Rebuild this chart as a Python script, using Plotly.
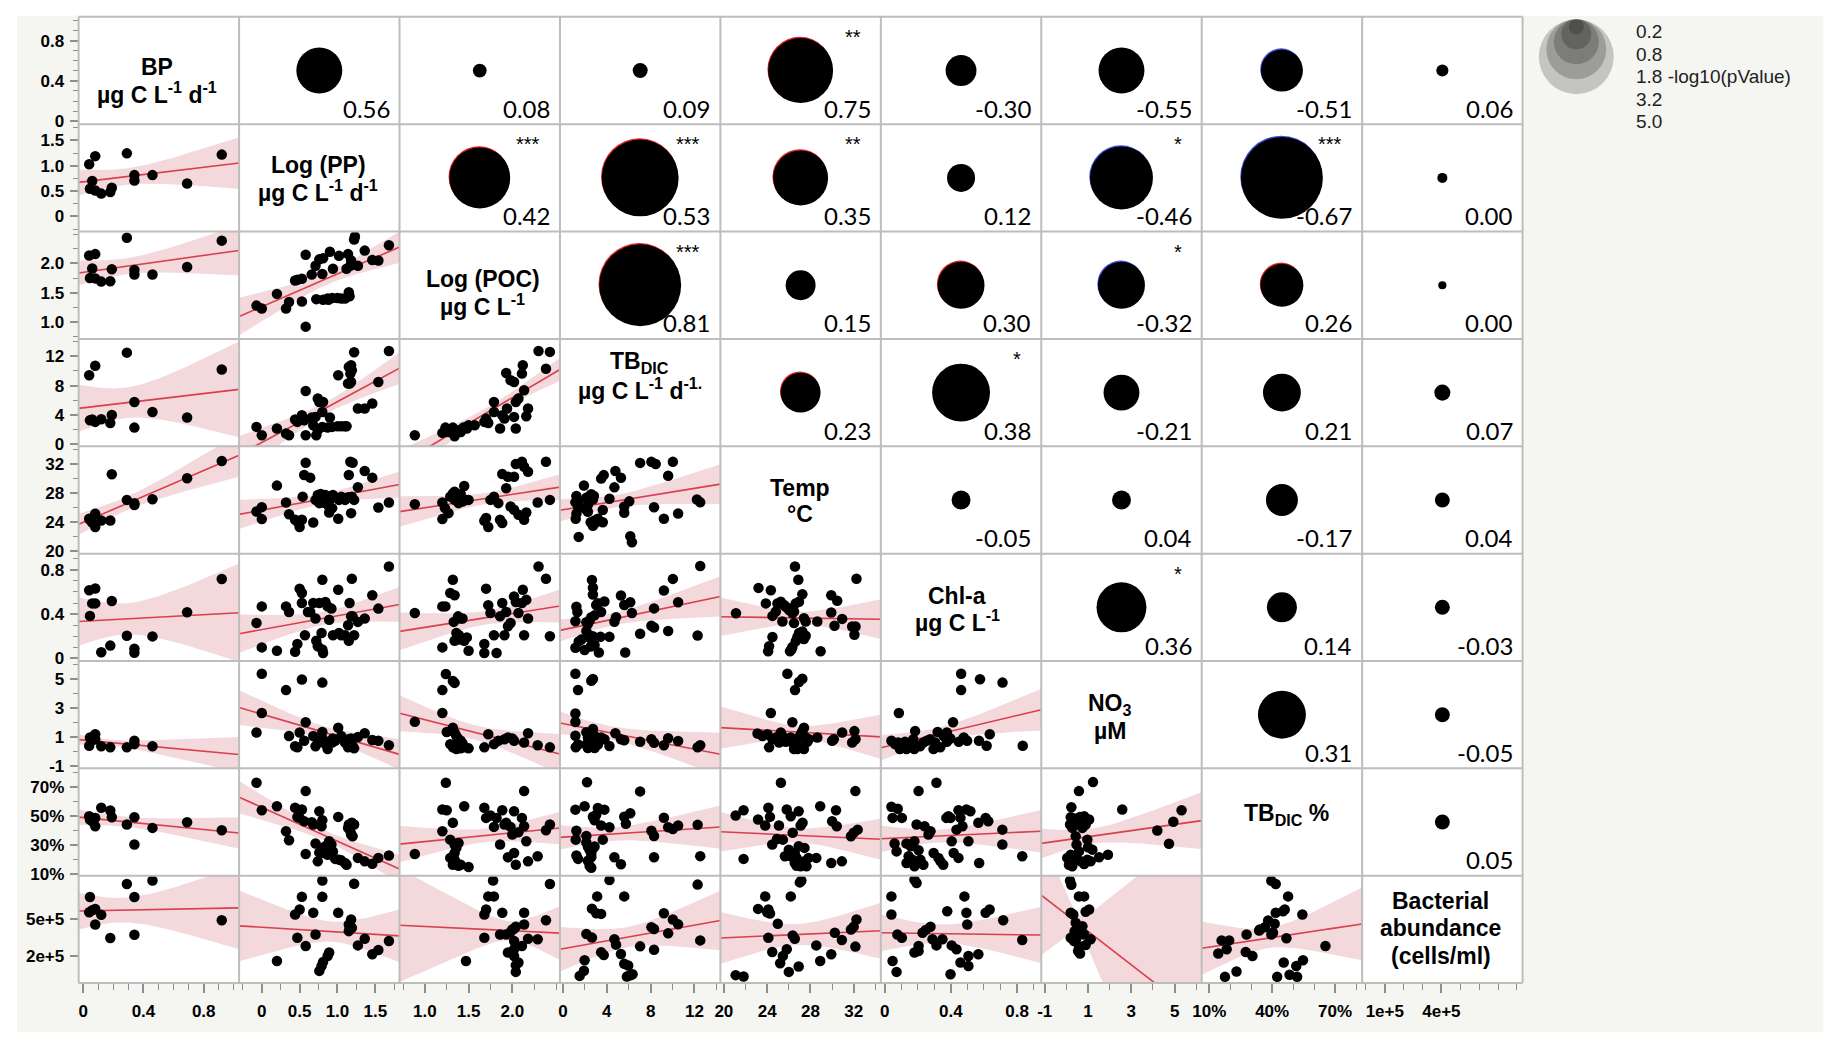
import numpy as np
import plotly.graph_objects as go

# ---------------------------------------------------------------- data
VARS = ["BP", "PP", "POC", "TBDIC", "Temp", "Chl", "NO3", "TBpct", "BA"]

LABEL_LINES = [
    ["BP", "µg C L<sup>-1</sup> d<sup>-1</sup>"],
    ["Log (PP)", "µg C L<sup>-1</sup> d<sup>-1</sup>"],
    ["Log (POC)", "µg C L<sup>-1</sup>"],
    ["TB<sub>DIC</sub>", "µg C L<sup>-1</sup> d<sup>-1.</sup>"],
    ["Temp", "°C"],
    ["Chl-a", "µg C L<sup>-1</sup>"],
    ["NO<sub>3</sub>", "µM"],
    ["TB<sub>DIC</sub> %"],
    ["Bacterial", "abundance", "(cells/ml)"],
]

# tick values / labels (x = bottom row, y = left column)
TICKS_X = {
    "BP": ([0, 0.4, 0.8], ["0", "0.4", "0.8"]),
    "PP": ([0, 0.5, 1.0, 1.5], ["0", "0.5", "1.0", "1.5"]),
    "POC": ([1.0, 1.5, 2.0], ["1.0", "1.5", "2.0"]),
    "TBDIC": ([0, 4, 8, 12], ["0", "4", "8", "12"]),
    "Temp": ([20, 24, 28, 32], ["20", "24", "28", "32"]),
    "Chl": ([0, 0.4, 0.8], ["0", "0.4", "0.8"]),
    "NO3": ([-1, 1, 3, 5], ["-1", "1", "3", "5"]),
    "TBpct": ([10, 40, 70], ["10%", "40%", "70%"]),
    "BA": ([1e5, 4e5], ["1e+5", "4e+5"]),
}
TICKS_Y = dict(TICKS_X)
TICKS_Y["TBpct"] = ([10, 30, 50, 70], ["10%", "30%", "50%", "70%"])
TICKS_Y["BA"] = ([2e5, 5e5], ["2e+5", "5e+5"])

# lower triangle scatter panels: (x, y) pairs
bp_pp = [(0.04,1.03),(0.08,1.19),(0.06,0.70),(0.045,0.545),(0.08,0.51),(0.12,0.45),(0.18,0.48),(0.19,0.565),(0.29,1.245),(0.34,0.815),(0.34,0.71),(0.46,0.815),(0.69,0.65),(0.92,1.22)]
bp_poc = [(0.04,2.135),(0.08,2.16),(0.06,1.915),(0.045,1.75),(0.08,1.745),(0.12,1.69),(0.18,1.695),(0.19,1.90),(0.29,2.44),(0.34,1.89),(0.34,1.81),(0.46,1.81),(0.69,1.94),(0.92,2.39)]
bp_tb = [(0.04,9.41),(0.08,10.7),(0.06,3.37),(0.045,3.27),(0.08,3.05),(0.12,3.41),(0.18,2.9),(0.19,4.0),(0.29,12.5),(0.34,5.77),(0.34,2.27),(0.46,4.41),(0.69,3.64),(0.92,10.2)]
bp_temp = [(0.04,24.49),(0.08,25.18),(0.06,23.98),(0.045,24.35),(0.08,23.35),(0.12,24.26),(0.18,24.26),(0.19,30.63),(0.29,27.1),(0.34,26.4),(0.34,26.65),(0.46,27.2),(0.69,30.08),(0.92,32.46)]
bp_chl = [(0.04,0.616),(0.08,0.631),(0.06,0.497),(0.045,0.384),(0.08,0.497),(0.12,0.056),(0.18,0.116),(0.19,0.518),(0.29,0.205),(0.34,0.087),(0.34,0.051),(0.46,0.199),(0.69,0.417),(0.92,0.717)]
bp_no3 = [(0.04,0.40),(0.08,1.19),(0.06,0.80),(0.045,0.97),(0.08,0.85),(0.12,0.36),(0.18,0.29),(0.29,0.29),(0.34,0.74),(0.34,0.51),(0.46,0.36)]
bp_pct = [(0.04,49.7),(0.08,48.5),(0.06,46.2),(0.045,47.4),(0.08,42.7),(0.12,55.5),(0.18,53.6),(0.19,49.0),(0.29,43.9),(0.34,49.0),(0.34,30.1),(0.46,41.6),(0.69,45.5),(0.92,40.0)]
bp_ba = [(0.045,685e3),(0.04,560e3),(0.06,576e3),(0.08,587e3),(0.08,459e3),(0.12,538e3),(0.18,347e3),(0.29,792e3),(0.34,685e3),(0.34,375e3),(0.46,821e3),(0.92,494e3)]

pp_poc = [(-0.07,1.28),(0.0,1.23),(0.2,1.48),(0.32,1.23),(0.36,1.34),(0.44,1.71),(0.47,1.72),(0.53,1.74),(0.53,1.35),(0.58,2.15),(0.58,0.92),(0.66,1.81),(0.71,1.96),(0.72,1.39),(0.76,2.07),(0.8,1.82),(0.81,2.09),(0.81,1.38),(0.87,1.4),(0.9,2.2),(0.93,1.41),(0.94,1.91),(1.0,1.41),(1.02,2.13),(1.05,1.4),(1.1,1.4),(1.12,1.91),(1.14,2.16),(1.15,1.51),(1.16,1.44),(1.17,1.96),(1.18,2.05),(1.22,2.41),(1.23,2.46),(1.27,1.96),(1.36,2.22),(1.46,2.06),(1.54,2.05),(1.68,2.31),(0.88,1.38)]
pp_tb = [(-0.07,2.37),(0.0,1.23),(0.2,2.14),(0.32,1.46),(0.36,1.23),(0.44,3.37),(0.47,3.05),(0.53,3.96),(0.56,3.27),(0.58,7.27),(0.58,1.23),(0.66,3.64),(0.71,3.73),(0.74,6.23),(0.76,5.77),(0.8,4.41),(0.81,5.77),(0.72,1.23),(0.74,1.91),(0.68,2.59),(0.8,2.37),(0.87,2.27),(0.9,3.64),(0.93,2.37),(1.0,2.46),(1.01,9.41),(1.05,2.46),(1.1,2.46),(1.12,2.46),(1.14,8.28),(1.15,10.55),(1.16,8.28),(1.17,9.64),(1.18,10.78),(1.19,10.1),(1.18,8.5),(1.22,12.55),(1.27,4.87),(1.36,4.87),(1.46,5.55),(1.54,8.5),(1.68,12.73)]
pp_temp = [(-0.07,25.49),(0.0,26.1),(0.0,24.45),(0.2,29.07),(0.32,26.73),(0.36,25.13),(0.44,24.35),(0.47,24.12),(0.5,23.35),(0.53,24.35),(0.54,27.55),(0.56,30.54),(0.58,32.23),(0.64,30.17),(0.68,23.98),(0.71,27.1),(0.74,27.79),(0.76,26.65),(0.78,27.93),(0.8,27.55),(0.81,26.73),(0.84,27.79),(0.87,26.41),(0.89,25.36),(0.9,27.1),(0.93,25.96),(0.94,27.79),(1.01,24.49),(1.02,27.1),(1.05,27.55),(1.1,27.1),(1.14,27.47),(1.15,30.54),(1.17,32.36),(1.18,25.27),(1.19,27.55),(1.2,32.23),(1.22,27.1),(1.27,28.85),(1.36,31.08),(1.46,30.17),(1.54,26.04),(1.68,26.73)]
pp_chl = [(-0.07,0.32),(0.0,0.47),(0.0,0.1),(0.2,0.07),(0.32,0.47),(0.36,0.42),(0.44,0.06),(0.47,0.13),(0.5,0.63),(0.53,0.59),(0.53,0.5),(0.57,0.21),(0.61,0.42),(0.64,0.42),(0.68,0.5),(0.71,0.36),(0.72,0.16),(0.74,0.11),(0.76,0.5),(0.79,0.23),(0.8,0.71),(0.81,0.05),(0.84,0.51),(0.87,0.47),(0.89,0.35),(0.92,0.45),(0.94,0.21),(1.01,0.62),(1.02,0.23),(1.05,0.21),(1.1,0.21),(1.14,0.3),(1.15,0.16),(1.16,0.5),(1.18,0.38),(1.19,0.72),(1.2,0.38),(1.22,0.21),(1.27,0.33),(1.36,0.36),(1.46,0.57),(1.54,0.45),(1.68,0.83),(0.8,0.08)]
pp_no3 = [(-0.07,1.31),(0.0,2.66),(0.36,1.07),(0.44,0.36),(0.47,0.29),(0.5,1.31),(0.56,0.74),(0.58,2.02),(0.68,1.07),(0.71,0.36),(0.74,0.63),(0.76,0.74),(0.8,1.35),(0.81,0.85),(0.84,0.51),(0.87,0.17),(0.93,0.63),(0.94,0.9),(0.97,0.74),(1.01,1.64),(1.05,1.07),(1.1,0.63),(1.14,0.29),(1.15,0.85),(1.18,0.9),(1.2,0.4),(1.22,0.22),(1.27,1.01),(1.36,1.26),(1.46,0.8),(1.54,0.74),(1.68,0.44),(0.0,5.37),(0.32,4.24),(0.53,4.97),(0.8,4.76)]
pp_pct = [(-0.07,72.8),(0.0,53.8),(0.2,56.6),(0.32,39.3),(0.36,33.1),(0.44,55.5),(0.47,49.2),(0.5,48.5),(0.53,54.3),(0.56,46.2),(0.58,67.0),(0.58,23.6),(0.66,45.5),(0.68,43.9),(0.71,30.8),(0.74,18.5),(0.76,53.1),(0.79,42.7),(0.8,46.9),(0.81,24.3),(0.81,27.1),(0.84,28.9),(0.87,23.1),(0.89,32.4),(0.92,30.1),(0.94,25.4),(0.97,20.2),(1.01,49.2),(1.02,19.7),(1.05,19.2),(1.1,17.4),(1.12,16.2),(1.14,41.6),(1.15,43.9),(1.17,39.3),(1.18,37.0),(1.19,45.1),(1.2,35.8),(1.22,43.9),(1.27,20.9),(1.36,18.5),(1.46,16.9),(1.54,20.9),(1.68,22.5),(0.76,24.7),(0.8,27.8)]
pp_ba = [(0.2,159e3),(0.44,541e3),(0.47,350e3),(0.5,582e3),(0.53,686e3),(0.58,282e3),(0.68,555e3),(0.71,377e3),(0.76,77e3),(0.79,118e3),(0.8,686e3),(0.8,821e3),(0.81,151e3),(0.87,200e3),(0.89,228e3),(1.01,555e3),(1.15,459e3),(1.15,404e3),(1.16,418e3),(1.18,500e3),(1.19,432e3),(1.22,794e3),(1.27,287e3),(1.36,342e3),(1.46,214e3),(1.54,249e3),(1.68,323e3)]

poc_tb = [(0.885,1.23),(1.2,1.55),(1.235,2.27),(1.27,1.68),(1.29,1.82),(1.32,2.27),(1.34,1.36),(1.34,1.91),(1.34,1.09),(1.36,1.68),(1.385,1.91),(1.41,1.68),(1.44,2.27),(1.48,2.14),(1.5,2.59),(1.57,2.59),(1.68,3.05),(1.7,3.5),(1.725,2.91),(1.79,5.77),(1.79,4.41),(1.86,2.14),(1.885,3.96),(1.91,3.5),(1.93,9.73),(1.94,4.87),(1.98,8.73),(2.02,8.5),(2.02,3.73),(2.04,2.14),(2.04,5.77),(2.07,6.23),(2.11,9.64),(2.12,10.78),(2.135,7.37),(2.16,3.82),(2.18,4.87),(2.3,12.73),(2.385,10.3),(2.43,12.6)]
poc_temp = [(0.885,26.51),(1.2,26.73),(1.2,24.45),(1.23,25.96),(1.27,25.27),(1.29,27.55),(1.32,28.0),(1.34,28.24),(1.34,27.1),(1.36,27.65),(1.385,27.33),(1.385,26.65),(1.41,27.93),(1.43,26.87),(1.45,29.02),(1.48,27.1),(1.5,27.1),(1.68,24.22),(1.7,24.59),(1.725,23.35),(1.75,27.1),(1.79,27.55),(1.84,26.65),(1.86,24.35),(1.885,23.9),(1.885,30.67),(1.93,28.71),(1.95,30.3),(1.98,26.18),(2.02,30.3),(2.02,25.73),(2.04,32.05),(2.07,25.04),(2.11,32.36),(2.135,31.68),(2.16,25.36),(2.18,30.99),(2.135,24.35),(2.29,26.73),(2.385,32.36),(2.43,27.1)]
poc_chl = [(0.885,0.41),(1.2,0.47),(1.2,0.1),(1.235,0.47),(1.29,0.59),(1.32,0.71),(1.33,0.33),(1.34,0.57),(1.36,0.23),(1.38,0.38),(1.39,0.21),(1.41,0.36),(1.43,0.36),(1.45,0.16),(1.48,0.19),(1.5,0.07),(1.34,0.16),(1.385,0.17),(1.68,0.13),(1.68,0.05),(1.7,0.63),(1.725,0.48),(1.75,0.41),(1.79,0.21),(1.82,0.05),(1.86,0.38),(1.885,0.5),(1.91,0.21),(1.93,0.42),(1.95,0.29),(1.98,0.32),(2.02,0.56),(2.04,0.51),(2.07,0.41),(2.11,0.5),(2.12,0.62),(2.135,0.21),(2.16,0.53),(2.18,0.36),(2.3,0.83),(2.385,0.72),(2.43,0.2)]
poc_no3 = [(1.24,5.35),(1.32,4.87),(1.34,4.74),(1.2,4.24),(0.885,2.05),(1.2,2.66),(1.25,1.35),(1.32,1.64),(1.34,1.31),(1.36,1.07),(1.385,0.85),(1.41,0.74),(1.43,0.58),(1.32,0.29),(1.36,0.17),(1.41,0.22),(1.45,0.29),(1.5,0.22),(1.29,0.51),(1.34,0.36),(1.68,0.29),(1.725,1.19),(1.79,0.51),(1.84,0.74),(1.91,0.85),(1.95,0.97),(2.0,0.9),(2.02,0.74),(2.135,0.63),(2.18,1.26),(2.29,0.44),(2.43,0.29)]
poc_pct = [(0.885,23.6),(1.2,39.3),(1.24,72.8),(1.2,54.3),(1.25,53.8),(1.32,45.1),(1.29,33.5),(1.34,30.1),(1.36,27.8),(1.385,31.2),(1.32,22.0),(1.34,19.7),(1.36,17.4),(1.385,15.5),(1.41,16.2),(1.45,56.6),(1.5,14.6),(1.32,16.2),(1.34,24.3),(1.29,20.9),(1.68,55.5),(1.7,48.5),(1.75,50.1),(1.79,42.3),(1.82,48.5),(1.86,30.1),(1.885,53.8),(1.91,43.9),(1.93,45.1),(1.95,21.3),(1.98,42.3),(2.0,37.0),(2.02,53.1),(2.02,24.3),(2.04,16.2),(2.07,38.6),(2.11,48.5),(2.135,67.0),(2.135,42.7),(2.16,32.4),(2.18,18.5),(2.29,22.0),(2.385,40.0),(2.43,43.9)]
poc_ba = [(1.47,159e3),(1.68,350e3),(1.68,541e3),(1.7,582e3),(1.725,690e3),(1.78,821e3),(1.79,690e3),(1.86,377e3),(1.885,555e3),(1.93,377e3),(1.95,228e3),(1.98,396e3),(2.0,418e3),(2.02,424e3),(2.02,323e3),(2.04,440e3),(2.02,255e3),(2.02,200e3),(2.04,124e3),(2.04,69e3),(2.07,146e3),(2.11,282e3),(2.135,459e3),(2.135,555e3),(2.18,342e3),(2.29,337e3),(2.385,494e3),(2.43,792e3)]

tb_temp = [(1.13,26.76),(1.22,27.64),(1.37,26.18),(1.22,25.22),(1.16,24.5),(1.43,21.99),(1.91,29.08),(2.13,27.39),(2.27,26.43),(2.27,25.47),(2.43,27.64),(2.58,27.87),(2.73,27.16),(2.82,27.64),(2.88,24.26),(2.73,23.53),(3.03,24.01),(3.18,24.5),(3.48,30.04),(3.72,30.52),(3.63,25.7),(3.63,24.01),(4.24,27.25),(4.69,28.83),(4.78,31.1),(5.29,30.14),(5.59,26.18),(5.59,25.32),(6.05,26.9),(6.14,22.09),(6.29,21.26),(7.04,32.21),(8.07,32.35),(8.46,32.06),(8.31,26.08),(9.21,24.5),(9.6,30.43),(10.03,32.35),(10.51,25.22),(12.23,27.16),(12.53,26.76),(1.97,25.95),(2.52,24.01),(1.37,26.9)]
tb_chl = [(1.22,0.467),(1.31,0.42),(1.13,0.336),(1.43,0.154),(1.13,0.097),(1.97,0.076),(2.27,0.311),(2.43,0.342),(2.58,0.373),(2.64,0.709),(2.73,0.639),(2.73,0.577),(2.88,0.389),(3.03,0.483),(3.18,0.498),(3.48,0.42),(3.78,0.514),(2.13,0.248),(2.27,0.217),(2.43,0.186),(2.52,0.107),(2.73,0.201),(2.88,0.122),(3.27,0.054),(3.42,0.195),(4.24,0.195),(4.69,0.332),(4.84,0.373),(5.29,0.568),(5.59,0.483),(5.68,0.054),(6.14,0.508),(6.29,0.411),(7.04,0.223),(8.07,0.295),(8.31,0.452),(8.31,0.279),(9.21,0.614),(9.6,0.248),(10.03,0.718),(10.51,0.508),(12.29,0.207),(12.53,0.834),(1.67,0.17),(2.13,0.326)]
tb_no3 = [(1.13,5.37),(1.37,4.25),(1.13,2.63),(1.13,2.04),(1.13,1.09),(2.58,4.89),(2.73,5.01),(1.16,0.3),(1.37,0.49),(2.13,1.33),(2.27,0.97),(2.43,0.73),(2.58,1.21),(2.73,1.56),(2.88,1.09),(3.03,0.73),(3.18,0.49),(2.27,0.25),(2.58,0.38),(3.48,0.97),(3.78,0.85),(4.24,0.38),(4.78,1.26),(5.29,0.85),(5.59,0.78),(7.04,0.68),(8.07,0.85),(8.31,0.61),(9.21,0.44),(9.6,0.92),(10.51,0.73),(12.29,0.3),(12.53,0.44),(2.13,0.49),(2.88,0.25)]
tb_pct = [(2.19,73.1),(1.13,54.2),(1.97,56.6),(1.22,39.6),(1.16,33.5),(1.22,22.6),(1.37,20.2),(2.13,31.6),(2.27,28.7),(2.43,26.3),(2.58,23.8),(2.27,18.9),(2.43,15.3),(2.58,21.4),(2.73,27.4),(2.73,49.3),(2.88,46.9),(3.03,50.6),(3.18,55.4),(3.48,43.2),(3.63,33.5),(3.78,54.2),(4.24,42.0),(4.69,21.4),(5.29,16.5),(5.59,49.3),(5.74,44.5),(6.14,51.7),(7.04,66.8),(8.07,39.6),(8.31,36.0),(8.31,21.4),(9.21,48.6),(9.6,42.0),(10.03,40.8),(10.51,43.2),(12.29,43.7),(12.53,22.1),(2.13,36.0),(2.88,28.7),(2.58,14.1)]
tb_ba = [(4.24,824e3),(3.12,690e3),(2.64,589e3),(3.03,551e3),(3.48,546e3),(2.13,380e3),(2.64,351e3),(4.69,337e3),(4.84,293e3),(3.48,230e3),(3.72,207e3),(1.97,164e3),(1.91,78e3),(1.52,36e3),(5.29,216e3),(5.59,135e3),(5.95,121e3),(6.14,41e3),(5.83,30e3),(6.35,50e3),(5.59,690e3),(7.04,279e3),(8.07,437e3),(8.31,422e3),(8.31,251e3),(9.21,551e3),(9.6,386e3),(10.03,500e3),(10.51,460e3),(12.29,787e3),(12.53,328e3)]

temp_chl = [(21.12,0.408),(23.2,0.637),(24.34,0.616),(23.88,0.497),(24.49,0.384),(24.8,0.423),(24.95,0.497),(25.26,0.512),(25.41,0.333),(25.56,0.482),(25.72,0.467),(26.02,0.438),(26.18,0.452),(26.48,0.423),(26.33,0.408),(26.57,0.83),(26.88,0.711),(26.64,0.497),(26.94,0.512),(27.25,0.58),(26.48,0.319),(27.4,0.363),(27.56,0.333),(26.94,0.229),(26.79,0.193),(26.64,0.155),(27.1,0.185),(27.4,0.176),(27.56,0.205),(27.25,0.244),(26.33,0.104),(26.11,0.065),(26.24,0.08),(24.49,0.193),(24.18,0.11),(24.09,0.065),(28.63,0.333),(28.94,0.065),(29.92,0.571),(30.47,0.521),(29.92,0.414),(30.93,0.357),(30.22,0.295),(31.85,0.289),(32.16,0.289),(32.06,0.214),(32.25,0.72)]
temp_no3 = [(25.87,5.37),(26.57,4.24),(26.94,4.8),(27.25,5.03),(24.34,2.66),(26.33,2.02),(23.11,1.24),(23.57,1.07),(24.03,1.19),(24.18,0.29),(24.49,0.85),(24.8,0.97),(25.26,1.31),(25.41,1.07),(25.72,0.67),(26.02,0.74),(26.33,0.63),(26.48,0.17),(26.64,0.4),(26.79,0.85),(26.94,0.97),(27.1,1.19),(27.25,1.41),(27.4,1.64),(27.56,0.97),(27.71,0.67),(26.79,0.17),(27.25,0.29),(27.4,0.17),(27.86,0.85),(28.63,0.97),(30.0,0.74),(30.93,1.31),(30.16,0.85),(31.85,0.63),(32.16,0.85),(32.06,1.41),(25.1,0.63),(26.18,0.97)]
temp_pct = [(21.09,50.1),(21.82,53.8),(21.82,20.2),(23.16,47.4),(23.82,43.2),(24.11,55.5),(24.26,49.2),(24.47,30.1),(24.91,34.0),(25.09,43.2),(25.27,72.8),(25.45,33.5),(25.81,54.3),(26.0,26.6),(26.18,49.7),(26.18,22.0),(26.36,38.2),(26.55,24.3),(26.55,17.4),(26.72,20.9),(26.91,53.1),(26.91,28.9),(27.09,43.2),(27.09,15.1),(27.27,45.1),(27.45,27.8),(27.45,18.5),(27.63,15.1),(27.82,20.9),(28.54,20.9),(28.9,56.6),(29.92,17.4),(30.0,46.2),(30.36,53.8),(30.43,42.7),(30.9,18.5),(31.74,35.8),(31.99,38.2),(32.15,67.0),(32.36,40.4),(25.64,22.0),(26.72,15.5)]
temp_ba = [(21.09,42e3),(21.82,31e3),(23.16,587e3),(23.82,690e3),(24.0,560e3),(24.26,549e3),(24.47,233e3),(24.11,350e3),(24.98,465e3),(25.2,140e3),(25.45,200e3),(25.81,255e3),(26.0,69e3),(26.18,690e3),(26.36,369e3),(26.55,342e3),(26.91,113e3),(27.02,805e3),(27.16,821e3),(28.54,287e3),(28.9,159e3),(29.92,214e3),(30.25,391e3),(30.9,331e3),(31.74,418e3),(31.99,440e3),(32.15,277e3),(32.25,500e3),(24.11,582e3)]

chl_no3 = [(0.462,5.37),(0.576,4.99),(0.712,4.76),(0.462,4.24),(0.086,2.66),(0.413,2.02),(0.635,1.19),(0.041,0.74),(0.062,0.51),(0.082,0.63),(0.102,0.4),(0.123,0.67),(0.132,0.17),(0.153,0.51),(0.173,0.85),(0.184,1.41),(0.193,0.4),(0.214,0.36),(0.234,0.63),(0.254,0.74),(0.275,0.85),(0.295,0.17),(0.305,0.63),(0.32,1.35),(0.336,0.29),(0.356,1.07),(0.376,1.31),(0.397,0.9),(0.448,0.67),(0.478,0.97),(0.498,0.74),(0.57,0.74),(0.616,0.4),(0.834,0.4),(0.376,0.67),(0.179,0.17),(0.092,0.17)]
chl_pct = [(0.041,56.2),(0.048,48.5),(0.079,54.8),(0.104,48.5),(0.06,30.8),(0.072,25.4),(0.132,30.8),(0.145,22.0),(0.157,28.9),(0.168,19.7),(0.18,15.1),(0.193,43.9),(0.193,17.4),(0.205,26.2),(0.216,19.7),(0.241,42.7),(0.265,37.0),(0.277,39.3),(0.296,24.3),(0.313,72.8),(0.325,20.9),(0.337,18.5),(0.354,16.2),(0.373,48.5),(0.385,49.7),(0.398,48.5),(0.405,32.4),(0.417,24.3),(0.434,40.4),(0.446,53.8),(0.446,20.9),(0.458,48.5),(0.47,42.7),(0.494,54.3),(0.506,32.4),(0.518,53.1),(0.566,45.1),(0.571,17.4),(0.61,48.5),(0.626,46.2),(0.711,40.4),(0.711,30.1),(0.831,22.0),(0.205,67.0),(0.18,32.4),(0.132,17.4),(0.234,16.2)]
chl_ba = [(0.041,690e3),(0.041,541e3),(0.048,159e3),(0.072,69e3),(0.077,377e3),(0.104,350e3),(0.18,827e3),(0.193,800e3),(0.18,228e3),(0.205,282e3),(0.229,391e3),(0.248,413e3),(0.277,440e3),(0.289,337e3),(0.313,287e3),(0.349,337e3),(0.378,568e3),(0.405,287e3),(0.434,255e3),(0.458,146e3),(0.482,690e3),(0.494,555e3),(0.499,459e3),(0.506,200e3),(0.506,118e3),(0.566,214e3),(0.61,555e3),(0.634,582e3),(0.716,494e3),(0.831,331e3),(0.398,50e3),(0.205,241e3)]

no3_pct = [(1.23,73.2),(0.58,67.0),(0.23,55.9),(0.2,49.0),(0.38,48.1),(0.63,49.2),(0.82,49.7),(1.05,47.4),(0.17,43.9),(0.27,41.6),(0.58,43.9),(0.74,41.6),(0.89,43.9),(0.43,35.8),(0.47,30.1),(0.97,33.5),(1.0,28.2),(1.2,26.6),(0.2,23.1),(0.35,20.9),(0.51,19.7),(0.12,16.2),(0.27,15.1),(0.66,18.5),(0.82,16.7),(0.97,19.7),(1.12,18.5),(1.51,21.3),(1.92,23.1),(2.58,54.3),(4.2,39.8),(4.74,30.6),(4.94,45.8),(5.32,53.8),(0.04,20.9),(0.58,25.4)]
no3_ba = [(0.17,819e3),(0.23,786e3),(0.58,690e3),(0.82,690e3),(0.2,555e3),(0.32,541e3),(0.89,563e3),(1.05,582e3),(0.43,473e3),(0.51,432e3),(0.63,404e3),(0.74,445e3),(0.38,404e3),(0.82,377e3),(1.12,337e3),(0.2,350e3),(0.35,323e3),(0.58,282e3),(0.89,290e3),(0.54,241e3),(0.63,220e3),(0.47,350e3)]

pct_ba = [(39.6,819e3),(41.7,792e3),(47.6,690e3),(46.0,582e3),(45.2,568e3),(54.4,541e3),(41.7,555e3),(38.1,492e3),(41.2,465e3),(34.1,418e3),(36.5,437e3),(40.4,391e3),(33.8,410e3),(27.8,377e3),(46.8,345e3),(15.9,328e3),(19.5,328e3),(14.3,220e3),(18.3,255e3),(27.4,233e3),(30.6,200e3),(65.4,282e3),(45.5,146e3),(54.7,165e3),(51.5,118e3),(42.4,28e3),(48.3,45e3),(51.9,28e3),(17.5,28e3),(23.0,72e3),(39.6,377e3)]

# upper triangle: correlation, -log10(p), significance stars (row by row)
CORR_ROWS = [
    [0.56, 0.08, 0.09, 0.75, -0.30, -0.55, -0.51, 0.06],
    [0.42, 0.53, 0.35, 0.12, -0.46, -0.67, 0.00],
    [0.81, 0.15, 0.30, -0.32, 0.26, 0.00],
    [0.23, 0.38, -0.21, 0.21, 0.07],
    [-0.05, 0.04, -0.17, 0.04],
    [0.36, 0.14, -0.03],
    [0.31, -0.05],
    [0.05],
]
NLP_ROWS = [
    [1.88, 0.17, 0.20, 3.76, 0.85, 1.88, 1.57, 0.13],
    [3.31, 5.27, 2.69, 0.70, 3.53, 5.98, 0.09],
    [5.98, 0.80, 1.96, 1.96, 1.64, 0.06],
    [1.42, 2.99, 1.15, 1.28, 0.23],
    [0.32, 0.32, 0.91, 0.20],
    [2.22, 0.80, 0.20],
    [2.05, 0.20],
    [0.20],
]
STAR_ROWS = [
    ["", "", "", "**", "", "", "", ""],
    ["***", "***", "**", "", "*", "***", ""],
    ["***", "", "", "*", "", ""],
    ["", "*", "", "", ""],
    ["", "", "", ""],
    ["*", "", ""],
    ["", ""],
    [""],
]
LEGEND_P = [0.2, 0.8, 1.8, 3.2, 5.0]

PANELS = [
    ("BP", "PP", bp_pp), ("BP", "POC", bp_poc), ("BP", "TBDIC", bp_tb), ("BP", "Temp", bp_temp),
    ("BP", "Chl", bp_chl), ("BP", "NO3", bp_no3), ("BP", "TBpct", bp_pct), ("BP", "BA", bp_ba),
    ("PP", "POC", pp_poc), ("PP", "TBDIC", pp_tb), ("PP", "Temp", pp_temp), ("PP", "Chl", pp_chl),
    ("PP", "NO3", pp_no3), ("PP", "TBpct", pp_pct), ("PP", "BA", pp_ba),
    ("POC", "TBDIC", poc_tb), ("POC", "Temp", poc_temp), ("POC", "Chl", poc_chl),
    ("POC", "NO3", poc_no3), ("POC", "TBpct", poc_pct), ("POC", "BA", poc_ba),
    ("TBDIC", "Temp", tb_temp), ("TBDIC", "Chl", tb_chl), ("TBDIC", "NO3", tb_no3),
    ("TBDIC", "TBpct", tb_pct), ("TBDIC", "BA", tb_ba),
    ("Temp", "Chl", temp_chl), ("Temp", "NO3", temp_no3), ("Temp", "TBpct", temp_pct), ("Temp", "BA", temp_ba),
    ("Chl", "NO3", chl_no3), ("Chl", "TBpct", chl_pct), ("Chl", "BA", chl_ba),
    ("NO3", "TBpct", no3_pct), ("NO3", "BA", no3_ba),
    ("TBpct", "BA", pct_ba),
]

# ---------------------------------------------------------------- style / layout
W, H = 1842, 1050
GX0, GX1, GY0, GY1 = 77, 1528, 16, 984   # grid in reference pixels
CW = (GX1 - GX0) / 9
CH = (GY1 - GY0) / 9

# small calibration between reference pixels and the photographed page
SHIFT_X = -7
SHIFT_Y = 1
STRETCH_Y = 1.0058


def PX(x):
    return (x + SHIFT_X) / W


def PY(y):
    return 1 - (y + SHIFT_Y + (y - GY0) * (STRETCH_Y - 1)) / H


XR = {"BP": [-0.03, 1.035], "PP": [-0.3, 1.82], "POC": [0.71, 2.545], "TBDIC": [-0.28, 14.37],
      "Temp": [19.68, 34.5], "Chl": [-0.023, 0.946], "NO3": [-1.16, 6.25],
      "TBpct": [6.4, 82.9], "BA": [-2e4, 8.3e5]}
YR = dict(XR)
YR["TBpct"] = [8.6, 82.7]
YR["BA"] = [-2.3e4, 8.6e5]
MINOR = {"BP": (0, 0.1), "PP": (0, 0.25), "POC": (1, 0.25), "TBDIC": (0, 2), "Temp": (20, 2),
         "Chl": (0, 0.1), "NO3": (-1, 1), "TBpct": (10, 10), "BA": (0, 1e5)}

# label line centres (reference pixels)
DIAG_X = [156, 318, 483, 641, 802, 960, 1113, 1291, 1446]
DIAG_Y = [[66, 92], [164, 190], [279, 305], [362, 389], [488, 514],
          [596, 621], [705, 731], [815], [902, 929, 957]]

# cells whose disc shows a thin coloured rim (red = positive, blue = negative)
RIM_CELLS = {(0, 4), (0, 7), (1, 2), (1, 3), (1, 4), (1, 6), (1, 7),
             (2, 3), (2, 5), (2, 6), (2, 7), (3, 4)}

SIZE_K = 33.5
TICK_COL = "#8e8e8e"
BAND_COL = "#f3d8dc"
LINE_COL = "#d9404c"
GRID_COL = "#bdbdbd"
PANEL_BG = "#f5f5f1"


def tcrit(df):
    return 1.96 + 2.37 / df + 2.8 / df ** 2


def fit_band(x, y, xr):
    x = np.asarray(x, float)
    y = np.asarray(y, float)
    n = len(x)
    b, a = np.polyfit(x, y, 1)
    xs = np.linspace(xr[0], xr[1], 150)
    yh = a + b * xs
    s = np.sqrt(np.sum((y - (a + b * x)) ** 2) / (n - 2))
    sxx = np.sum((x - x.mean()) ** 2)
    se = s * np.sqrt(1.0 / n + (xs - x.mean()) ** 2 / sxx)
    t = tcrit(n - 2)
    return xs, yh, yh - t * se, yh + t * se


def nm(k, a):
    return a if k == 1 else f"{a}{k}"


fig = go.Figure()
layout = {}
annotations = []
idx = {v: n for n, v in enumerate(VARS)}
TICKFONT = dict(family="Liberation Sans", size=17, color="black", weight="bold")

for i in range(9):
    for j in range(9):
        k = i * 9 + j + 1
        px0, px1 = GX0 + j * CW, GX0 + (j + 1) * CW
        py0, py1 = GY0 + i * CH, GY0 + (i + 1) * CH
        vx, vy = VARS[j], VARS[i]
        xa = dict(domain=[PX(px0), PX(px1)], range=XR[vx], anchor=nm(k, "y"),
                  showgrid=False, zeroline=False, showline=False,
                  showticklabels=False, ticks="")
        ya = dict(domain=[PY(py1), PY(py0)], range=YR[vy], anchor=nm(k, "x"),
                  showgrid=False, zeroline=False, showline=False,
                  showticklabels=False, ticks="")
        if i == 8:
            tv, tt = TICKS_X[vx]
            xa.update(tickmode="array", tickvals=tv, ticktext=tt, ticks="outside",
                      ticklen=9, tickwidth=1.5, tickcolor=TICK_COL, showticklabels=True,
                      ticklabelstandoff=4, tickfont=TICKFONT,
                      minor=dict(ticks="outside", ticklen=6, tickwidth=1.2, tickcolor=TICK_COL,
                                 tickmode="linear", tick0=MINOR[vx][0], dtick=MINOR[vx][1]))
        if j == 0:
            tv, tt = TICKS_Y[vy]
            ya.update(tickmode="array", tickvals=tv, ticktext=tt, ticks="outside",
                      ticklen=8, tickwidth=1.5, tickcolor=TICK_COL, showticklabels=True,
                      ticklabelstandoff=2, tickfont=TICKFONT)
            if vy != "BA":
                ya["minor"] = dict(ticks="outside", ticklen=5, tickwidth=1.2, tickcolor=TICK_COL,
                                   tickmode="linear", tick0=MINOR[vy][0], dtick=MINOR[vy][1])
        layout[nm(k, "xaxis")] = xa
        layout[nm(k, "yaxis")] = ya

        if i == j:
            # empty trace so that the subplot (and its axis ticks) is drawn
            fig.add_trace(go.Scatter(x=[None], y=[None], mode="markers", xaxis=nm(k, "x"),
                                     yaxis=nm(k, "y"), hoverinfo="skip", showlegend=False))
            for line, ly in zip(LABEL_LINES[i], DIAG_Y[i]):
                annotations.append(dict(x=PX(DIAG_X[i]), y=PY(ly), xref="paper", yref="paper",
                                        text=f"<b>{line}</b>", showarrow=False, xanchor="center",
                                        yanchor="middle", align="center",
                                        font=dict(family="Liberation Sans", size=23, color="black")))
        elif i < j:
            r = CORR_ROWS[i][j - i - 1]
            v = NLP_ROWS[i][j - i - 1]
            st = STAR_ROWS[i][j - i - 1]
            d = SIZE_K * np.sqrt(v)
            cx0, cy0 = np.mean(XR[vx]), np.mean(YR[vy])
            if (i, j) in RIM_CELLS:
                dy = 1.2 * (YR[vy][1] - YR[vy][0]) / CH
                dx = -0.7 * (XR[vx][1] - XR[vx][0]) / CW
                fig.add_trace(go.Scatter(
                    x=[cx0 + dx], y=[cy0 + dy], mode="markers",
                    marker=dict(size=d, color="#e0241f" if r > 0 else "#3f4fe0", line=dict(width=0)),
                    xaxis=nm(k, "x"), yaxis=nm(k, "y"), hoverinfo="skip", showlegend=False,
                    cliponaxis=False))
            fig.add_trace(go.Scatter(
                x=[cx0], y=[cy0], mode="markers",
                marker=dict(size=d, color="black", line=dict(width=0)),
                xaxis=nm(k, "x"), yaxis=nm(k, "y"), hoverinfo="skip", showlegend=False,
                cliponaxis=False))
            annotations.append(dict(x=PX(px1 - 8), y=PY(py1 - 16), xref="paper", yref="paper",
                                    text=f"{r:.2f}", showarrow=False, xanchor="right", yanchor="middle",
                                    font=dict(family="Lato", size=24, color="black")))
            if st:
                annotations.append(dict(x=PX(px1 - 18), y=PY(py0 + 7), xref="paper",
                                        yref="paper", text=st, showarrow=False, xanchor="right",
                                        yanchor="top",
                                        font=dict(family="Liberation Sans", size=20, color="black")))

# scatter panels with regression line and 95% confidence band
for vx, vy, pts in PANELS:
    j, i = idx[vx], idx[vy]
    k = i * 9 + j + 1
    x = [p[0] for p in pts]
    y = [p[1] for p in pts]
    xs, yh, lo, hi = fit_band(x, y, XR[vx])
    common = dict(xaxis=nm(k, "x"), yaxis=nm(k, "y"), hoverinfo="skip", showlegend=False)
    fig.add_trace(go.Scatter(x=np.r_[xs, xs[::-1]], y=np.r_[lo, hi[::-1]], mode="lines",
                             fill="toself", fillcolor=BAND_COL, line=dict(width=0), **common))
    fig.add_trace(go.Scatter(x=xs, y=yh, mode="lines", line=dict(color=LINE_COL, width=1.6), **common))
    fig.add_trace(go.Scatter(x=x, y=y, mode="markers",
                             marker=dict(color="black", size=10.5, line=dict(width=0)), **common))

# legend of circle sizes (-log10 p)
kL = 82
layout[nm(kL, "xaxis")] = dict(domain=[PX(1530), PX(1630)], range=[1530, 1630], visible=False,
                               anchor=nm(kL, "y"))
layout[nm(kL, "yaxis")] = dict(domain=[PY(130), PY(16)], range=[130, 16], visible=False,
                               anchor=nm(kL, "x"))
LEG_TOP = 18.5
for v in sorted(LEGEND_P, reverse=True):
    d = SIZE_K * np.sqrt(v)
    fig.add_trace(go.Scatter(x=[1582], y=[LEG_TOP + d / 2], mode="markers",
                             marker=dict(size=d, color="rgba(0,0,0,0.2)", line=dict(width=0)),
                             xaxis=nm(kL, "x"), yaxis=nm(kL, "y"), hoverinfo="skip",
                             showlegend=False, cliponaxis=False))
for n, v in enumerate(LEGEND_P):
    txt = f"{v:.1f}" + (" -log10(pValue)" if n == 2 else "")
    annotations.append(dict(x=PX(1640), y=PY(31 + n * 22.5), xref="paper", yref="paper",
                            text=txt, showarrow=False, xanchor="left", yanchor="middle",
                            font=dict(family="Liberation Sans", size=19, color="#222")))

shapes = [
    dict(type="rect", xref="paper", yref="paper", x0=PX(15), x1=PX(1830), y0=PY(1033),
         y1=PY(15), fillcolor=PANEL_BG, line=dict(width=0), layer="below"),
    dict(type="rect", xref="paper", yref="paper", x0=PX(GX0), x1=PX(GX1), y0=PY(GY1),
         y1=PY(GY0), fillcolor="white", line=dict(width=0), layer="below"),
]
for n in range(10):
    xx = PX(GX0 + n * CW)
    shapes.append(dict(type="line", xref="paper", yref="paper", x0=xx, x1=xx,
                       y0=PY(GY1), y1=PY(GY0), line=dict(color=GRID_COL, width=2), layer="above"))
    yy = PY(GY0 + n * CH)
    shapes.append(dict(type="line", xref="paper", yref="paper", x0=PX(GX0), x1=PX(GX1),
                       y0=yy, y1=yy, line=dict(color=GRID_COL, width=2), layer="above"))

fig.update_layout(width=W, height=H, margin=dict(l=0, r=0, t=0, b=0),
                  paper_bgcolor="white", plot_bgcolor="white", showlegend=False,
                  shapes=shapes, annotations=annotations, **layout)

# figure at the very top-left of the page: no default body margin, no scrollbars, no mode bar
fig.write_html("out.html",
               config={"displayModeBar": False},
               post_script="document.body.style.margin='0px';"
                           "document.body.style.overflow='hidden';"
                           "document.documentElement.style.overflow='hidden';")
